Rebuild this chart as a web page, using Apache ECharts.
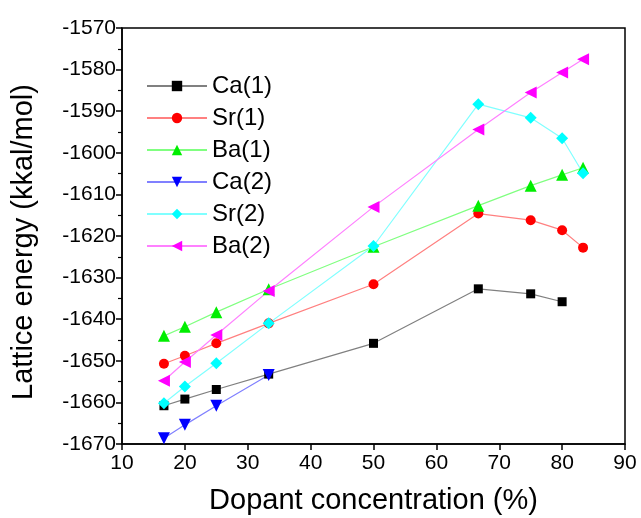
<!DOCTYPE html>
<html>
<head>
    <meta charset="utf-8">
    <title>Lattice energy vs dopant concentration</title>
    <style>
        html, body { margin: 0; padding: 0; background: #ffffff; }
        #chart { width: 641px; height: 518px; }
    </style>
</head>
<body>
<div id="chart"></div>
<script src="https://cdn.jsdelivr.net/npm/echarts@6/dist/echarts.min.js"></script>
<script>
    // dopant concentration (%)
    var concentration = [16.67, 20, 25, 33.33, 50, 66.67, 75, 80, 83.33];

    // lattice energy (kkal/mol), null = no point
    var ca1 = [-1660.8, -1659.2, -1656.9, -1653.2, -1645.8, -1632.7, -1633.9, -1635.8, null];
    var sr1 = [-1650.7, -1648.8, -1645.8, -1641.0, -1631.6, -1614.6, -1616.2, -1618.6, -1622.8];
    var ba1 = [-1644.0, -1641.8, -1638.3, -1632.8, -1622.6, -1612.7, -1607.9, -1605.3, -1603.6];
    var ca2 = [-1668.6, -1665.4, -1660.8, -1653.4, null, null, null, null, null];
    var sr2 = [-1660.2, -1656.2, -1650.6, -1641.0, -1622.4, -1588.3, -1591.6, -1596.5, -1604.9];
    var ba2 = [-1654.8, -1650.3, -1643.8, -1633.2, -1613.0, -1594.4, -1585.5, -1580.7, -1577.5];

    var seriesNames = ['Ca(1)', 'Sr(1)', 'Ba(1)', 'Ca(2)', 'Sr(2)', 'Ba(2)'];
    var seriesValues = [ca1, sr1, ba1, ca2, sr2, ba2];

    var font = 'Liberation Sans, Arial, sans-serif';

    function pairs(values) {
        var out = [];
        for (var i = 0; i < concentration.length; i++) {
            if (values[i] !== null) out.push([concentration[i], values[i]]);
        }
        return out;
    }

    // marker styles per series: symbol, rotate, size, point colour, line colour
    var looks = [
        {symbol: 'rect', rotate: 0, size: 9, color: '#000000', line: '#808080'},
        {symbol: 'circle', rotate: 0, size: 10, color: '#ff0000', line: '#ff8080'},
        {symbol: 'triangle', rotate: 0, size: 12, color: '#00ee00', line: '#80ff80'},
        {symbol: 'triangle', rotate: 180, size: 12, color: '#0000ff', line: '#8080ff'},
        {symbol: 'diamond', rotate: 0, size: 12, color: '#00ffff', line: '#80ffff'},
        {symbol: 'triangle', rotate: 90, size: 12, color: '#ff00ff', line: '#ff80ff'}
    ];

    var series = seriesNames.map(function (name, i) {
        var l = looks[i];
        return {
            name: name,
            type: 'line',
            data: pairs(seriesValues[i]),
            symbol: l.symbol,
            symbolRotate: l.rotate,
            symbolSize: l.size,
            showAllSymbol: true,
            itemStyle: {color: l.color, borderWidth: 0},
            lineStyle: {color: l.line, width: 1.2},
            emphasis: {disabled: true},
            animation: false
        };
    });

    var chart = echarts.init(document.getElementById('chart'), null, {renderer: 'canvas'});
    var option = {
        backgroundColor: '#ffffff',
        animation: false,
        grid: {
            left: 122,
            right: 16,
            top: 28,
            bottom: 74,
            show: true,
            borderColor: '#000000',
            borderWidth: 1.5,
            containLabel: false,
            outerBoundsMode: 'none'
        },
        legend: {
            orient: 'vertical',
            left: 146,
            top: 74,
            padding: 0,
            itemWidth: 60,
            itemHeight: 13,
            itemGap: 8,
            textStyle: {fontFamily: font, fontSize: 24, color: '#000000'},
            data: seriesNames
        },
        xAxis: {
            type: 'value',
            min: 10,
            max: 90,
            interval: 10,
            name: 'Dopant concentration (%)',
            nameLocation: 'middle',
            nameGap: 42,
            nameTextStyle: {fontFamily: font, fontSize: 29, color: '#000000'},
            axisLine: {lineStyle: {color: '#000000', width: 1.5}},
            axisTick: {inside: false, length: 6, lineStyle: {color: '#000000', width: 1.5}},
            minorTick: {show: false},
            splitLine: {show: false},
            axisLabel: {fontFamily: font, fontSize: 21, color: '#000000', margin: 9}
        },
        yAxis: {
            type: 'value',
            min: -1670,
            max: -1570,
            interval: 10,
            name: 'Lattice energy (kkal/mol)',
            nameLocation: 'middle',
            nameGap: 84,
            nameTextStyle: {fontFamily: font, fontSize: 29, color: '#000000', padding: [0, 12, 0, 0]},
            axisLine: {lineStyle: {color: '#000000', width: 1.5}},
            axisTick: {inside: false, length: 6, lineStyle: {color: '#000000', width: 1.5}},
            minorTick: {show: true, splitNumber: 2, length: 4, lineStyle: {color: '#000000', width: 1.2}},
            splitLine: {show: false},
            axisLabel: {
                fontFamily: font, fontSize: 21, color: '#000000', margin: 6,
                formatter: function (v) { return String(v); }
            }
        },
        series: series
    };
    chart.setOption(option);
</script>
</body>
</html>
